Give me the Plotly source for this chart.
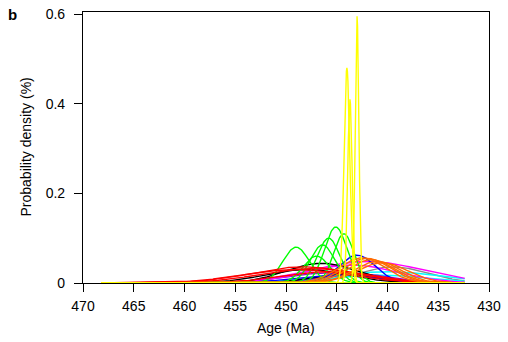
import numpy as np
import plotly.graph_objects as go

# Each curve: central age (Ma), spread (Ma), peak density (%), colour
ages   = [439.5, 440.0, 441.0, 446.0, 443.0, 442.0, 443.5, 444.5, 446.5, 448.0, 445.0, 443.0,
          449.0, 447.0, 446.4, 445.8, 445.1, 444.3,
          448.3, 447.5, 449.0, 446.0,
          442.5, 442.0, 441.6, 441.0, 440.5,
          444.0, 443.7, 443.0]
sigmas = [3.5, 5.5, 5.0, 4.0, 3.5, 5.5, 4.5, 3.0, 3.5, 4.0, 4.0, 1.8,
          1.3, 1.3, 1.2, 1.1, 1.1, 1.0,
          5.0, 5.0, 5.2, 4.5,
          2.3, 2.3, 2.3, 2.3, 2.5,
          0.28, 0.22, 0.18]
peaks  = [0.036, 0.025, 0.018, 0.022, 0.020, 0.048, 0.040, 0.020, 0.044, 0.030, 0.018, 0.062,
          0.080, 0.060, 0.085, 0.100, 0.125, 0.110,
          0.036, 0.032, 0.030, 0.025,
          0.056, 0.055, 0.052, 0.048, 0.045,
          0.480, 0.410, 0.595]
colors = ["#888888", "#00ffff", "#00ffff", "#9400d3", "#9400d3", "#ff00ff", "#ff00ff", "#000000",
          "#000000", "#000000", "#0000ff", "#0000ff",
          "#00ff00", "#00ff00", "#00ff00", "#00ff00", "#00ff00", "#00ff00",
          "#ff0000", "#ff0000", "#ff0000", "#ff0000",
          "#ff6a00", "#ff6a00", "#ff6a00", "#ff6a00", "#ff6a00",
          "#ffff00", "#ffff00", "#ffff00"]
age_min, age_max = 432.4, 468.2
x_ticks = [470, 465, 460, 455, 450, 445, 440, 435, 430]
y_ticks = [0, 0.2, 0.4, 0.6]
y_tick_text = ["0", "0.2", "0.4", "0.6"]

grid = np.arange(age_max, age_min - 1e-9, -0.05)

fig = go.Figure()
for m, s, p, c in zip(ages, sigmas, peaks, colors):
    y = p * np.exp(-0.5 * ((grid - m) / s) ** 2)
    fig.add_trace(go.Scatter(x=grid, y=y, mode="lines",
                             line=dict(color=c, width=1.4), hoverinfo="skip"))

W, H = 508, 342
L, R, T, B = 83, 19, 12, 59
PW, PH = W - L - R, H - T - B

font = dict(family="Liberation Sans, Arial, sans-serif", size=14, color="#000")
axis_common = dict(showline=True, linecolor="#000", linewidth=1.2, mirror=True,
                   ticks="outside", ticklen=8, tickwidth=1.2, tickcolor="#000",
                   showgrid=False, zeroline=False, tickfont=font, automargin=False)
fig.update_layout(
    width=W, height=H,
    margin=dict(l=L, r=R, t=T, b=B, autoexpand=False),
    paper_bgcolor="white", plot_bgcolor="white",
    showlegend=False, font=font,
    xaxis=dict(range=[470, 430], tickvals=x_ticks, ticklabelstandoff=2, **axis_common),
    yaxis=dict(range=[0, 0.6045], tickvals=y_ticks, ticktext=y_tick_text, ticklabelstandoff=6,
               **axis_common),
    annotations=[
        dict(text="<b>b</b>", x=(6 - L) / PW, y=(H - B - 14) / PH,
             xref="paper", yref="paper", xanchor="left", yanchor="middle", showarrow=False,
             font=dict(family="Liberation Sans, Arial, sans-serif", size=15, color="#000")),
        dict(text="Age (Ma)", x=0.5, y=-(328 - (H - B)) / PH,
             xref="paper", yref="paper", xanchor="center", yanchor="middle", showarrow=False,
             font=font),
        dict(text="Probability density (%)", x=-(L - 25) / PW, y=0.5, textangle=-90,
             xref="paper", yref="paper", xanchor="center", yanchor="middle", showarrow=False,
             font=font),
    ],
)
fig.write_html("out.html")
